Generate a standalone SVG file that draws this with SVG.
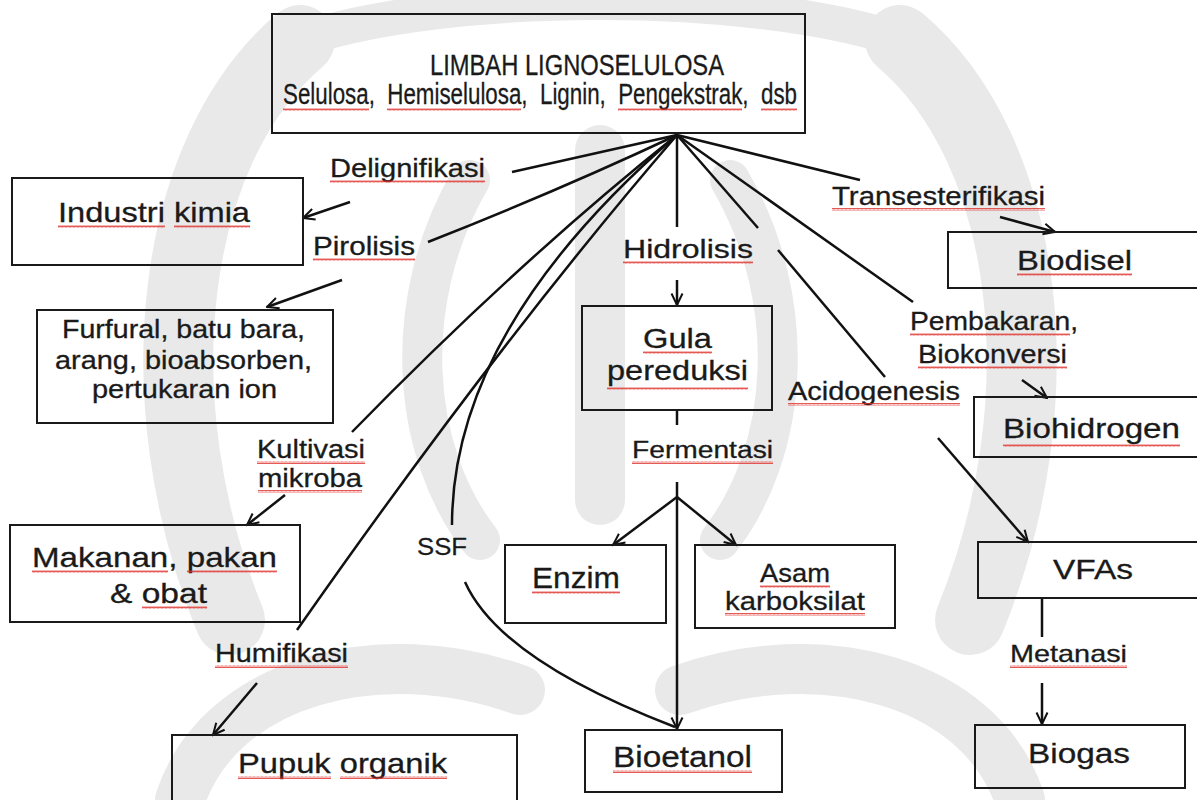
<svg xmlns="http://www.w3.org/2000/svg" width="1197" height="800" viewBox="0 0 1197 800">
<style>
.t{font-family:"Liberation Sans",Arial,sans-serif;fill:#1a1a1a;stroke:#1a1a1a;stroke-width:0.3}
.box{fill:none;stroke:#1a1a1a;stroke-width:2}
.ln{fill:none;stroke:#111;stroke-width:2.5}
.ar{fill:none;stroke:#111;stroke-width:2.5;marker-end:url(#ah)}
.sq{fill:url(#sqp);stroke:none}
.wm{fill:none;stroke:#e9e9e9;stroke-linecap:round}
</style>
<defs>
<marker id="ah" viewBox="0 0 14 14" refX="12.5" refY="7" markerWidth="14" markerHeight="14" markerUnits="userSpaceOnUse" orient="auto">
<path d="M1,1.5 L12.5,7 L1,12.5" fill="none" stroke="#111" stroke-width="2"/>
</marker>
<pattern id="sqp" width="4" height="3" patternUnits="userSpaceOnUse">
<path d="M0,2.5 L1,0.5 L2,2.5 L3,0.5 L4,2.5" fill="none" stroke="#e0302a" stroke-width="0.8"/>
</pattern>
</defs>
<rect width="1197" height="800" fill="#fff"/>

<g id="watermark">
<path class="wm" stroke-width="70" d="M300,40 C170,150 140,400 230,620"/>
<path class="wm" stroke-width="70" d="M900,40 C1030,150 1060,400 970,620"/>
<path class="wm" stroke-width="40" d="M470,180 C400,300 410,450 480,540"/>
<path class="wm" stroke-width="40" d="M730,180 C800,300 790,450 720,540"/>
<path class="wm" stroke-width="50" d="M600,150 L600,500"/>
<path class="wm" stroke-width="50" d="M180,800 C220,680 380,640 520,690"/>
<path class="wm" stroke-width="50" d="M1020,800 C980,680 820,640 680,690"/>
<path class="wm" stroke-width="35" d="M300,40 C450,-10 750,-10 900,40"/>
</g>

<g id="connectors">
<path class="ln" d="M677,135 L512,172"/>
<path class="ar" d="M350,202 L303,218"/>
<path class="ln" d="M677,135 Q560,190 428,242"/>
<path class="ar" d="M342,280 L267,307"/>
<path class="ln" d="M677,135 Q520,260 352,432"/>
<path class="ar" d="M285,495 L247,525"/>
<path class="ln" d="M677,135 Q500,340 297,630"/>
<path class="ar" d="M257,683 L213,735"/>
<path class="ln" d="M677,135 Q452,330 452,525"/>
<path class="ln" d="M465,582 Q500,660 675,727"/>
<path class="ln" d="M677,135 L677,227"/>
<path class="ar" d="M677,280 L677,305"/>
<path class="ln" d="M677,410 L677,425"/>
<path class="ar" d="M677,482 L677,729"/>
<path class="ar" d="M677,497 L613,545"/>
<path class="ar" d="M677,497 L736,545"/>
<path class="ln" d="M677,135 L758,228"/>
<path class="ln" d="M778,250 L885,377"/>
<path class="ar" d="M938,438 L1028,542"/>
<path class="ln" d="M677,135 L913,302"/>
<path class="ar" d="M1022,380 L1047,398"/>
<path class="ln" d="M677,135 L860,180"/>
<path class="ar" d="M1000,217 L1055,232"/>
<path class="ln" d="M1042,598 L1042,637"/>
<path class="ar" d="M1042,683 L1042,724"/>
</g>

<g id="edge-labels">
<text class="t" x="330" y="177" font-size="26" textLength="155" lengthAdjust="spacingAndGlyphs">Delignifikasi</text>
<rect class="sq" x="330" y="180" width="155" height="3"/>
<text class="t" x="313" y="255" font-size="25" textLength="102" lengthAdjust="spacingAndGlyphs">Pirolisis</text>
<rect class="sq" x="313" y="258" width="102" height="3"/>
<text class="t" x="257" y="458" font-size="25" textLength="108" lengthAdjust="spacingAndGlyphs">Kultivasi</text>
<rect class="sq" x="257" y="461" width="108" height="3"/>
<text class="t" x="258" y="487" font-size="25" textLength="104" lengthAdjust="spacingAndGlyphs">mikroba</text>
<rect class="sq" x="258" y="490" width="104" height="3"/>
<text class="t" x="215" y="662" font-size="25" textLength="133" lengthAdjust="spacingAndGlyphs">Humifikasi</text>
<rect class="sq" x="215" y="665" width="133" height="3"/>
<text class="t" x="417" y="555" font-size="24" textLength="50" lengthAdjust="spacingAndGlyphs">SSF</text>
<text class="t" x="623" y="258" font-size="26" textLength="130" lengthAdjust="spacingAndGlyphs">Hidrolisis</text>
<rect class="sq" x="623" y="261" width="130" height="3"/>
<text class="t" x="632" y="458" font-size="23" textLength="141" lengthAdjust="spacingAndGlyphs">Fermentasi</text>
<rect class="sq" x="632" y="461" width="141" height="3"/>
<text class="t" x="832" y="205" font-size="25" textLength="213" lengthAdjust="spacingAndGlyphs">Transesterifikasi</text>
<rect class="sq" x="832" y="208" width="213" height="3"/>
<text class="t" x="910" y="330" font-size="25" textLength="168" lengthAdjust="spacingAndGlyphs">Pembakaran,</text>
<rect class="sq" x="910" y="333" width="160" height="3"/>
<text class="t" x="918" y="363" font-size="25" textLength="149" lengthAdjust="spacingAndGlyphs">Biokonversi</text>
<rect class="sq" x="918" y="366" width="149" height="3"/>
<text class="t" x="788" y="400" font-size="25" textLength="172" lengthAdjust="spacingAndGlyphs">Acidogenesis</text>
<rect class="sq" x="788" y="403" width="172" height="3"/>
<text class="t" x="1010" y="662" font-size="24" textLength="117" lengthAdjust="spacingAndGlyphs">Metanasi</text>
<rect class="sq" x="1010" y="665" width="117" height="3"/>
</g>

<g id="node-limbah">
<rect class="box" x="272" y="14" width="533" height="119"/>
<text class="t" x="430" y="75" font-size="29" textLength="294" lengthAdjust="spacingAndGlyphs">LIMBAH LIGNOSELULOSA</text>
<text class="t" x="283" y="104" font-size="29" textLength="514" lengthAdjust="spacingAndGlyphs" xml:space="preserve">Selulosa,  Hemiselulosa,  Lignin,  Pengekstrak,  dsb</text>
<rect class="sq" x="283" y="108" width="86" height="3"/>
<rect class="sq" x="387" y="108" width="134" height="3"/>
<rect class="sq" x="618" y="108" width="124" height="3"/>
<rect class="sq" x="761" y="108" width="36" height="3"/>
</g>

<g id="node-industri">
<rect class="box" x="12" y="178" width="291" height="87"/>
<text class="t" x="58" y="222" font-size="28" textLength="192" lengthAdjust="spacingAndGlyphs">Industri kimia</text>
<rect class="sq" x="58" y="225" width="107" height="3"/>
<rect class="sq" x="174" y="225" width="76" height="3"/>
</g>

<g id="node-furfural">
<rect class="box" x="37" y="310" width="296" height="113"/>
<text class="t" x="62" y="338" font-size="25" textLength="243" lengthAdjust="spacingAndGlyphs">Furfural, batu bara,</text>
<text class="t" x="55" y="369" font-size="25" textLength="257" lengthAdjust="spacingAndGlyphs">arang, bioabsorben,</text>
<text class="t" x="92" y="398" font-size="25" textLength="185" lengthAdjust="spacingAndGlyphs">pertukaran ion</text>
</g>

<g id="node-makanan">
<rect class="box" x="10" y="525" width="290" height="97"/>
<text class="t" x="32" y="567" font-size="28" textLength="245" lengthAdjust="spacingAndGlyphs">Makanan, pakan</text>
<rect class="sq" x="32" y="570" width="136" height="3"/>
<rect class="sq" x="187" y="570" width="90" height="3"/>
<text class="t" x="110" y="603" font-size="28" textLength="97" lengthAdjust="spacingAndGlyphs">&amp; obat</text>
<rect class="sq" x="142" y="606" width="65" height="3"/>
</g>

<g id="node-pupuk">
<rect class="box" x="172" y="735" width="345" height="80"/>
<text class="t" x="238" y="773" font-size="28" textLength="209" lengthAdjust="spacingAndGlyphs">Pupuk organik</text>
<rect class="sq" x="238" y="776" width="93" height="3"/>
<rect class="sq" x="340" y="776" width="107" height="3"/>
</g>

<g id="node-gula">
<rect class="box" x="582" y="306" width="190" height="104"/>
<text class="t" x="643" y="348" font-size="27" textLength="69" lengthAdjust="spacingAndGlyphs">Gula</text>
<rect class="sq" x="643" y="351" width="69" height="3"/>
<text class="t" x="607" y="380" font-size="27" textLength="141" lengthAdjust="spacingAndGlyphs">pereduksi</text>
<rect class="sq" x="607" y="387" width="141" height="3"/>
</g>

<g id="node-enzim">
<rect class="box" x="505" y="545" width="161" height="78"/>
<text class="t" x="532" y="588" font-size="29" textLength="88" lengthAdjust="spacingAndGlyphs">Enzim</text>
<rect class="sq" x="532" y="591" width="88" height="3"/>
</g>

<g id="node-asam">
<rect class="box" x="695" y="545" width="200" height="83"/>
<text class="t" x="760" y="582" font-size="26" textLength="70" lengthAdjust="spacingAndGlyphs">Asam</text>
<rect class="sq" x="760" y="585" width="70" height="3"/>
<text class="t" x="725" y="610" font-size="26" textLength="140" lengthAdjust="spacingAndGlyphs">karboksilat</text>
<rect class="sq" x="725" y="613" width="140" height="3"/>
</g>

<g id="node-bioetanol">
<rect class="box" x="585" y="730" width="197" height="62"/>
<text class="t" x="613" y="767" font-size="30" textLength="139" lengthAdjust="spacingAndGlyphs">Bioetanol</text>
<rect class="sq" x="613" y="770" width="139" height="3"/>
</g>

<g id="node-biodisel">
<rect class="box" x="948" y="232" width="260" height="56"/>
<text class="t" x="1017" y="270" font-size="28" textLength="115" lengthAdjust="spacingAndGlyphs">Biodisel</text>
<rect class="sq" x="1017" y="273" width="115" height="3"/>
</g>

<g id="node-biohidrogen">
<rect class="box" x="974" y="397" width="234" height="60"/>
<text class="t" x="1003" y="438" font-size="28" textLength="177" lengthAdjust="spacingAndGlyphs">Biohidrogen</text>
<rect class="sq" x="1003" y="444" width="177" height="3"/>
</g>

<g id="node-vfas">
<rect class="box" x="978" y="542" width="230" height="56"/>
<text class="t" x="1053" y="579" font-size="27" textLength="80" lengthAdjust="spacingAndGlyphs">VFAs</text>
</g>

<g id="node-biogas">
<rect class="box" x="975" y="725" width="210" height="63"/>
<text class="t" x="1028" y="763" font-size="27" textLength="102" lengthAdjust="spacingAndGlyphs">Biogas</text>
</g>
</svg>
